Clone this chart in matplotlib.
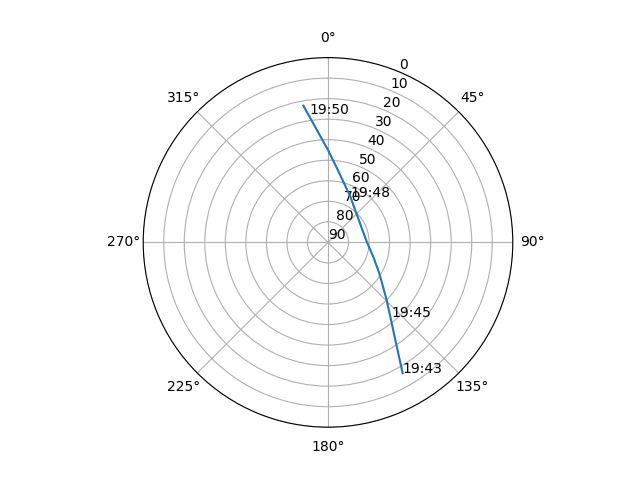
import numpy as np
import matplotlib
matplotlib.use("Agg")
import matplotlib.pyplot as plt

# Satellite pass track (azimuth in degrees, elevation in degrees), 19:43 -> 19:50
track_az = [150.3, 145.4, 140.0, 134.5, 121.1, 107.8, 90.0, 70.7, 54.0, 34.1, 26.4, 7.7, 0.0, 349.8]
track_el = [16.6, 32.25, 42.8, 49.95, 60.8, 66.8, 71.0, 72.2, 71.45, 68.0, 65.3, 54.4, 45.0, 22.35]

# Time labels along the track
label_text = ["19:43", "19:45", "19:48", "19:50"]
label_az = [150.3, 139.5, 26.4, 351.8]
label_el = [16.6, 42.4, 65.3, 26.6]

r_ticks = list(range(0, 91, 10))

fig = plt.figure(figsize=(6.4, 4.8), dpi=100)
ax = fig.add_subplot(projection="polar")
ax.set_theta_zero_location("N")
ax.set_theta_direction(-1)

theta = np.unwrap(np.radians(track_az))
ax.plot(theta, track_el)

for t, a, e in zip(label_text, label_az, label_el):
    ax.text(np.radians(a), e, t)

ax.set_ylim(90, 0)
ax.set_yticks(r_ticks)

fig.savefig("out.png", dpi=100)
